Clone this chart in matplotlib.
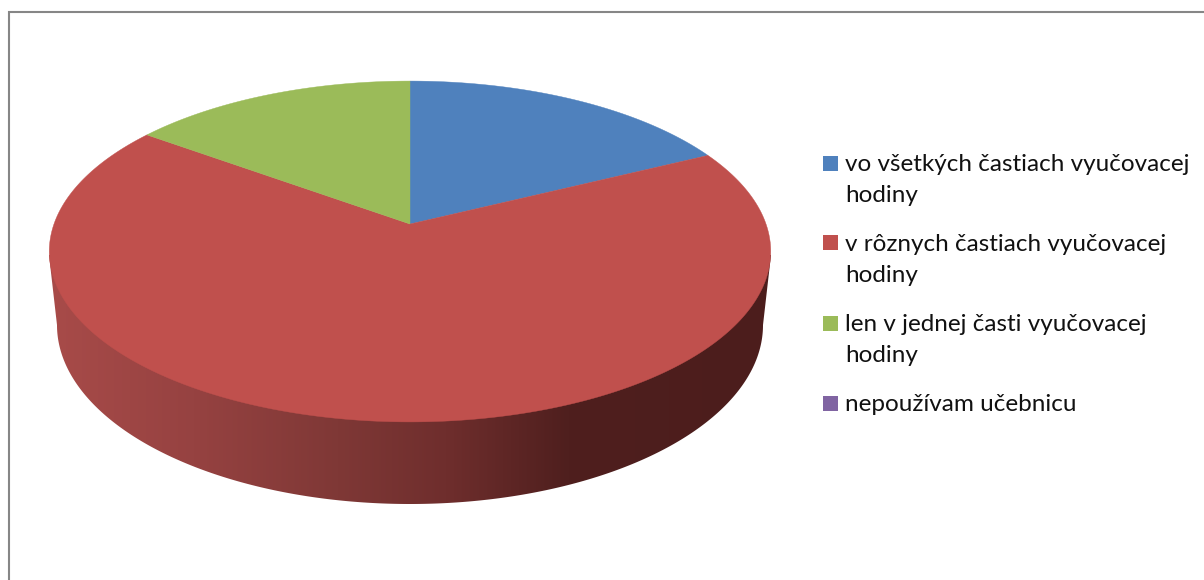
import numpy as np
import matplotlib
matplotlib.use("Agg")
import matplotlib.pyplot as plt
from matplotlib.colors import LinearSegmentedColormap
from matplotlib.patches import Polygon, Rectangle

labels = ["vo všetkých častiach vyučovacej\nhodiny",
          "v rôznych častiach vyučovacej\nhodiny",
          "len v jednej časti vyučovacej\nhodiny",
          "nepoužívam učebnicu"]
values = [17.7, 67.3, 15.0, 0.0]
colors = ["#4f81bd", "#c0504d", "#9bbb59", "#8064a2"]

plt.rcParams["font.family"] = ["Lato", "DejaVu Sans"]

# pie geometry in image pixels
CX, CY = 410, 224      # apex of the slices
RX, RY = 356, 166      # scale of the tilted disc
TILT = 0.1613          # perspective, pushes the apex above the disc centre


def disc(angle):
    # angle in degrees clockwise from 12 o'clock -> pixel position on the rim
    a = np.radians(angle)
    x, y = np.sin(a), np.cos(a)
    w = 1 + TILT * y
    return CX + RX * x / w, CY - RY * y / w


fig = plt.figure(figsize=(12.04, 5.8), dpi=100)
ax = fig.add_axes([0, 0, 1, 1])
ax.set_xlim(0, 1204)
ax.set_ylim(580, 0)
ax.axis("off")

# chart frame, open at the right and bottom edges
ax.plot([9, 9, 1204], [580, 12, 12], color="#868686", lw=1.5, solid_joinstyle="miter")

# side wall: hull of the top rim and the lower rim, filled with a gradient
t = np.linspace(0, 360, 721)
tx, ty = disc(t)
wall_cy, wall_rx, wall_ry = 325, 353, 179
bx = 410 + wall_rx * np.sin(np.radians(t))
by = wall_cy + wall_ry * np.cos(np.radians(t)) * -1
lower = t[(t >= 90) & (t <= 270)]
wall_x = np.r_[771, 410 + wall_rx * np.sin(np.radians(lower)), 49]
wall_y = np.r_[255, wall_cy - wall_ry * np.cos(np.radians(lower)), 255]
wall = Polygon(np.c_[wall_x, wall_y], closed=True, fc="none", ec="none", transform=ax.transData)
ax.add_patch(wall)
cmap = LinearSegmentedColormap.from_list("wall", [
    (0.0, "#a84b49"), (0.2, "#964241"), (0.4, "#7f3836"),
    (0.55, "#6f2e2d"), (0.72, "#4f1f1e"), (1.0, "#4c1d1c")])
im = ax.imshow(np.linspace(0, 1, 256)[None, :], cmap=cmap, extent=(49, 771, 510, 250),
               aspect="auto", zorder=1, interpolation="bilinear")
im.set_clip_path(wall)
ax.set_xlim(0, 1204)
ax.set_ylim(580, 0)

# top face, slices clockwise from 12 o'clock
start = 0
total = sum(values)
for v, c in zip(values, colors):
    if v == 0:
        continue
    end = start + v / total * 360
    sx, sy = disc(np.linspace(start, end, 300))
    ax.fill(np.r_[CX, sx], np.r_[CY, sy], color=c, lw=0.3, zorder=2)
    start = end

# legend
baselines = [[171, 201.5], [251, 282], [331, 362], [411]]
boxes = [156, 235, 316, 396]
for label, c, base, top in zip(labels, colors, baselines, boxes):
    ax.add_patch(Rectangle((823, top), 15, 15, fc=c, ec="none"))
    for line, y in zip(label.split("\n"), base):
        ax.text(845, y, line, fontsize=17.5, color="#111111", va="baseline", ha="left")

fig.savefig("out.png", dpi=100)
